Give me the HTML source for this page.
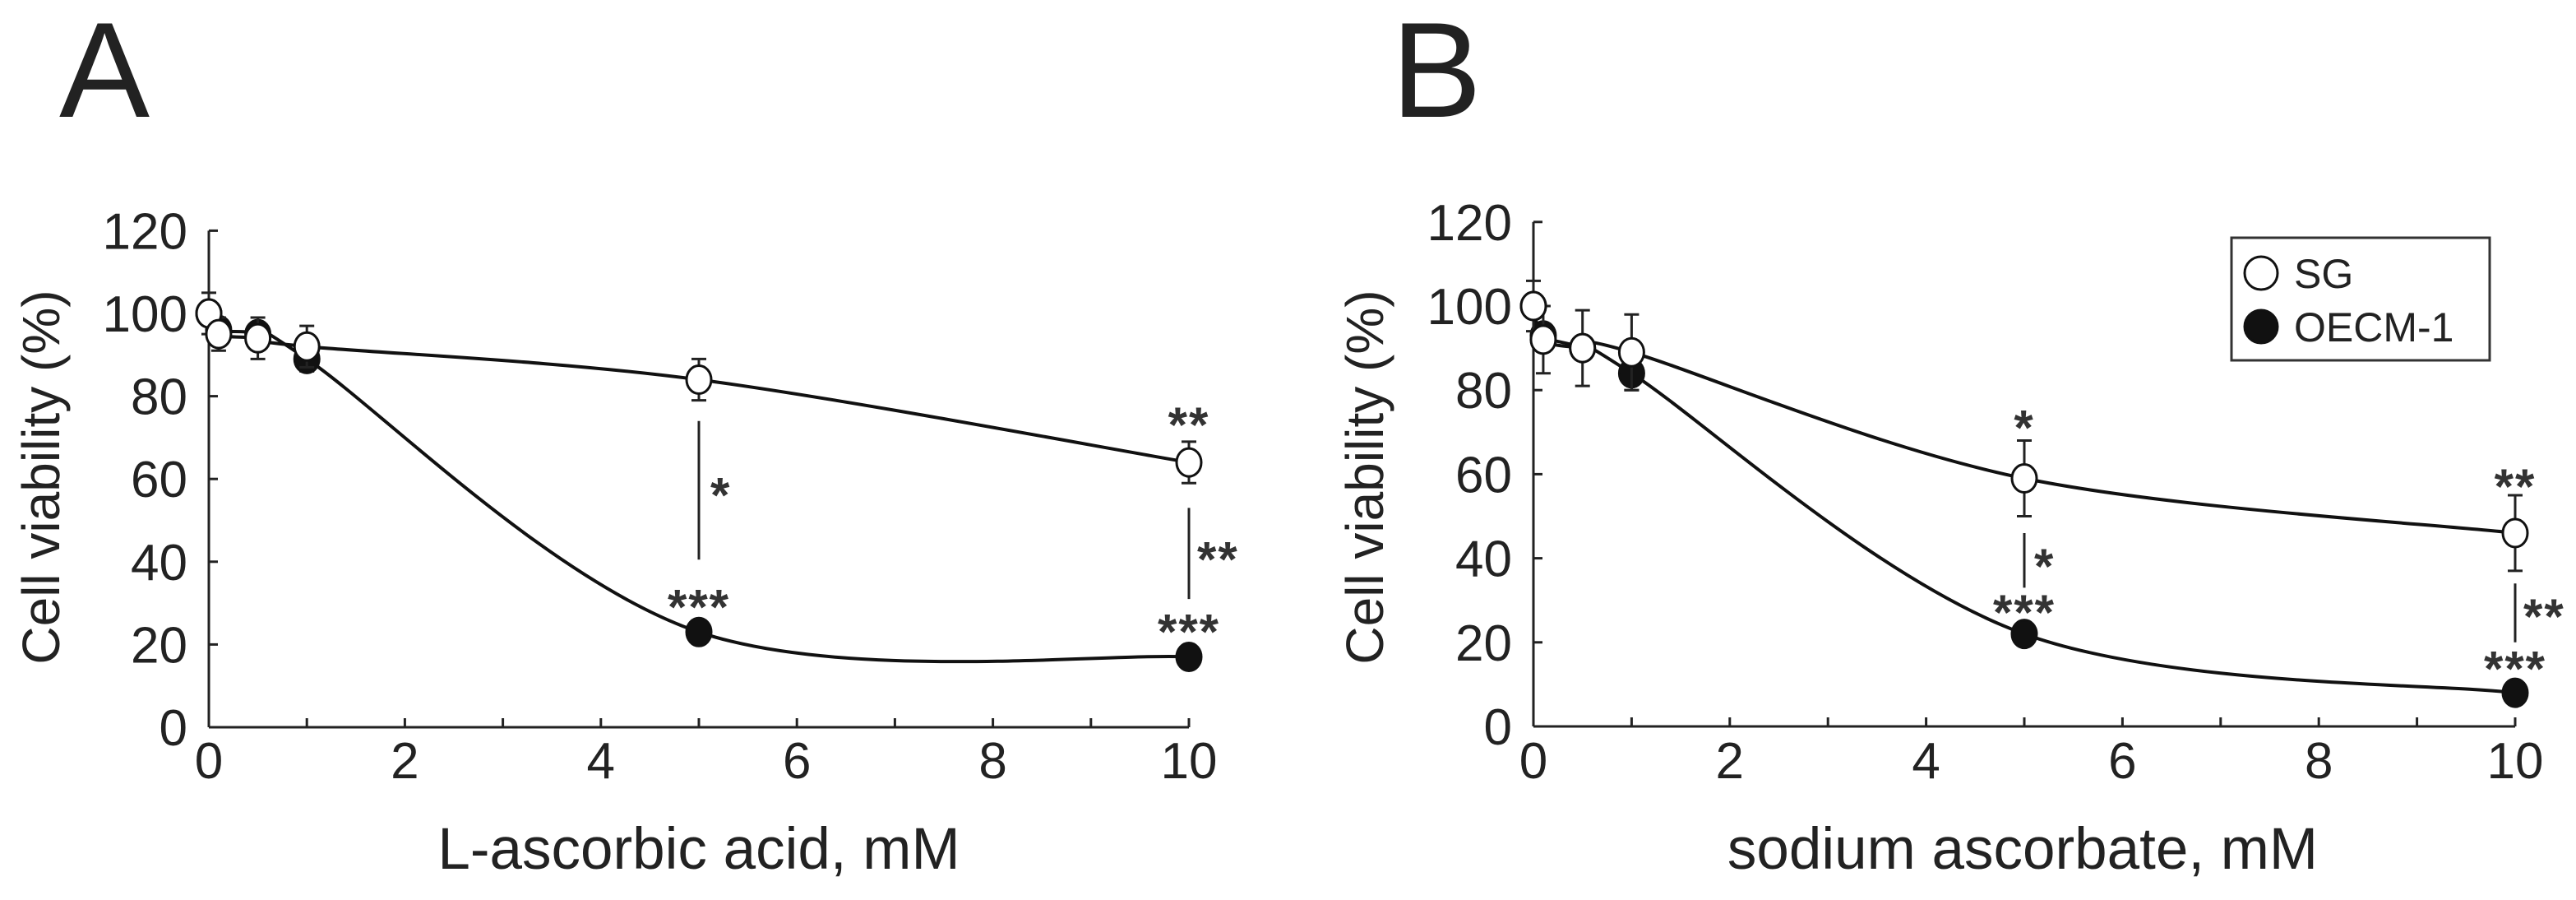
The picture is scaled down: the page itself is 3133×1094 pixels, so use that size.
<!DOCTYPE html>
<html><head><meta charset="utf-8">
<style>
html,body{margin:0;padding:0;background:#fff;}
svg{display:block;font-family:"Liberation Sans",Arial,sans-serif;}
</style></head>
<body>
<svg id="fig" width="3133" height="1094" viewBox="0 0 3133 1094" xmlns="http://www.w3.org/2000/svg"></svg>
<script>
// ---- data ----
const doseA = [0, 0.1, 0.5, 1, 5, 10];
const sgA = [100, 95, 94, 92, 84, 64];
const sgErrA = [5, 4, 5, 5, 5, 5];
const oecmA = [100, 96, 95, 89, 23, 17];
const oecmErrA = [2, 2, 2, 3, 1, 1];

const doseB = [0, 0.1, 0.5, 1, 5, 10];
const sgB = [100, 92, 90, 89, 59, 46];
const sgErrB = [6, 8, 9, 9, 9, 9];
const oecmB = [100, 93, 90, 84, 22, 8];
const oecmErrB = [2, 2, 2, 4, 1, 1];

const yTicks = [0, 20, 40, 60, 80, 100, 120];
const xTicks = [0, 2, 4, 6, 8, 10];
const xMinor = [1, 3, 5, 7, 9];

const NS = "http://www.w3.org/2000/svg";
const svg = document.getElementById('fig');
function mk(tag, attrs, parent, text) {
  const e = document.createElementNS(NS, tag);
  for (const k in attrs) e.setAttribute(k, attrs[k]);
  if (text !== undefined) e.textContent = text;
  (parent || svg).appendChild(e);
  return e;
}

function catmull(pts) {
  let d = `M${pts[0][0]},${pts[0][1]}`;
  for (let i = 0; i < pts.length - 1; i++) {
    const p0 = pts[Math.max(0, i - 1)], p1 = pts[i], p2 = pts[i + 1], p3 = pts[Math.min(pts.length - 1, i + 2)];
    const c1x = p1[0] + (p2[0] - p0[0]) / 6, c1y = p1[1] + (p2[1] - p0[1]) / 6;
    const c2x = p2[0] - (p3[0] - p1[0]) / 6, c2y = p2[1] - (p3[1] - p1[1]) / 6;
    d += ` C${c1x},${c1y} ${c2x},${c2y} ${p2[0]},${p2[1]}`;
  }
  return d;
}

const STAR_FS = 60;

function panel(cfg) {
  const g = mk('g', {});
  
  
  const x = v => cfg.x0 + v * cfg.ux;
  const y = v => cfg.y0 - v * cfg.uy;

  const letter = mk('text', {x: cfg.letterX, y: 142, 'font-size': 165, fill: '#222'}, g, cfg.letter);
  
  

  const yAxis = mk('line', {x1: x(0), y1: y(0), x2: x(0), y2: y(120), stroke: '#222', 'stroke-width': 3}, g);
  
  
  const xAxis = mk('line', {x1: x(0), y1: y(0), x2: x(10), y2: y(0), stroke: '#222', 'stroke-width': 3}, g);
  
  

  yTicks.forEach(t => {
    const tk = mk('line', {x1: x(0), y1: y(t), x2: x(0) + 11, y2: y(t), stroke: '#222', 'stroke-width': 3}, g);
    
    
    const lb = mk('text', {x: x(0) - 26, y: y(t) + 22, 'font-size': 62, 'text-anchor': 'end', fill: '#222'}, g, String(t));
    
    
  });
  xTicks.concat(xMinor).forEach(t => {
    const tk = mk('line', {x1: x(t), y1: y(0), x2: x(t), y2: y(0) - 11, stroke: '#222', 'stroke-width': 3}, g);
    
    
  });
  xTicks.forEach(t => {
    const lb = mk('text', {x: x(t), y: 946, 'font-size': 62, 'text-anchor': 'middle', fill: '#222'}, g, String(t));
    
    
  });

  const yt = mk('text', {x: 0, y: 0, 'font-size': 64, 'text-anchor': 'middle', fill: '#222', transform: `translate(${cfg.yTitleX},580) rotate(-90)`}, g, 'Cell viability (%)');
  
  
  const xt = mk('text', {x: cfg.xTitleX, y: 1056, 'font-size': 71, 'text-anchor': 'middle', fill: '#222'}, g, cfg.xTitle);
  
  

  function series(dose, vals, errs, filled, nm) {
    const pts = dose.map((d, i) => [x(d), y(vals[i])]);
    const p = mk('path', {d: catmull(pts), fill: 'none', stroke: '#111', 'stroke-width': 4}, g);
    
    
    dose.forEach((d, i) => {
      const cx = x(d), top = y(vals[i] + errs[i]), bot = y(vals[i] - errs[i]);
      const eb = mk('path', {d: `M${cx},${top}V${bot}M${cx - 9},${top}H${cx + 9}M${cx - 9},${bot}H${cx + 9}`, stroke: '#222', 'stroke-width': 3, fill: 'none'}, g);
      
      
    });
    dose.forEach((d, i) => {
      const c = mk('ellipse', {cx: x(d), cy: y(vals[i]), rx: 15, ry: 17, fill: filled ? '#111' : '#fff', stroke: '#111', 'stroke-width': 3}, g);
      
      
    });
  }
  series(cfg.dose, cfg.oecm, cfg.oecmErr, true, 'oecm1');
  series(cfg.dose, cfg.sg, cfg.sgErr, false, 'sg');

  cfg.lines.forEach(a => {
    const l = mk('line', {x1: x(a.x), y1: y(a.y1), x2: x(a.x), y2: y(a.y2), stroke: '#222', 'stroke-width': 3}, g);
    
    
  });
  cfg.stars.forEach(a => {
    const t = mk('text', {x: x(a.x) + (a.dx || 0), y: y(a.ty) + STAR_FS * 0.42, 'font-size': STAR_FS, 'font-weight': 'bold', 'letter-spacing': 2, 'text-anchor': a.anchor || 'middle', fill: '#333'}, g, a.text);
    
    
  });
}

panel({name: 'panel-a', letter: 'A', letterX: 72, x0: 254, ux: 119.2, y0: 884, uy: 5.03,
  yTitleX: 72, xTitleX: 850, xTitle: 'L-ascorbic acid, mM',
  dose: doseA, sg: sgA, sgErr: sgErrA, oecm: oecmA, oecmErr: oecmErrA,
  lines: [{x: 5, y1: 74, y2: 40.5}, {x: 10, y1: 53, y2: 31}],
  stars: [
    {x: 5, ty: 57, text: '*', dx: 14, anchor: 'start'},
    {x: 10, ty: 41.5, text: '**', dx: 10, anchor: 'start'},
    {x: 10, ty: 74, text: '**'},
    {x: 5, ty: 30, text: '***'},
    {x: 10, ty: 24, text: '***'}
  ]});

panel({name: 'panel-b', letter: 'B', letterX: 1692, x0: 1865, ux: 119.4, y0: 883, uy: 5.11,
  yTitleX: 1682, xTitleX: 2460, xTitle: 'sodium ascorbate, mM',
  dose: doseB, sg: sgB, sgErr: sgErrB, oecm: oecmB, oecmErr: oecmErrB,
  lines: [{x: 5, y1: 46, y2: 33}, {x: 10, y1: 34, y2: 20}],
  stars: [
    {x: 5, ty: 72, text: '*'},
    {x: 5, ty: 39, text: '*', dx: 12, anchor: 'start'},
    {x: 5, ty: 28, text: '***'},
    {x: 10, ty: 58, text: '**'},
    {x: 10, ty: 27, text: '**', dx: 10, anchor: 'start'},
    {x: 10, ty: 14.6, text: '***'}
  ]});

// legend
const lg = mk('g', {});


const box = mk('rect', {x: 2714, y: 289, width: 314, height: 149, fill: '#fff', stroke: '#333', 'stroke-width': 3}, lg);


const e1 = mk('circle', {cx: 2750, cy: 332, r: 20, fill: '#fff', stroke: '#111', 'stroke-width': 3}, lg);


const t1 = mk('text', {x: 2790, y: 350, 'font-size': 50, fill: '#222'}, lg, 'SG');


const e2 = mk('circle', {cx: 2750, cy: 397, r: 20, fill: '#111', stroke: '#111', 'stroke-width': 3}, lg);


const t2 = mk('text', {x: 2790, y: 415, 'font-size': 50, fill: '#222'}, lg, 'OECM-1');


</script>
</body></html>
